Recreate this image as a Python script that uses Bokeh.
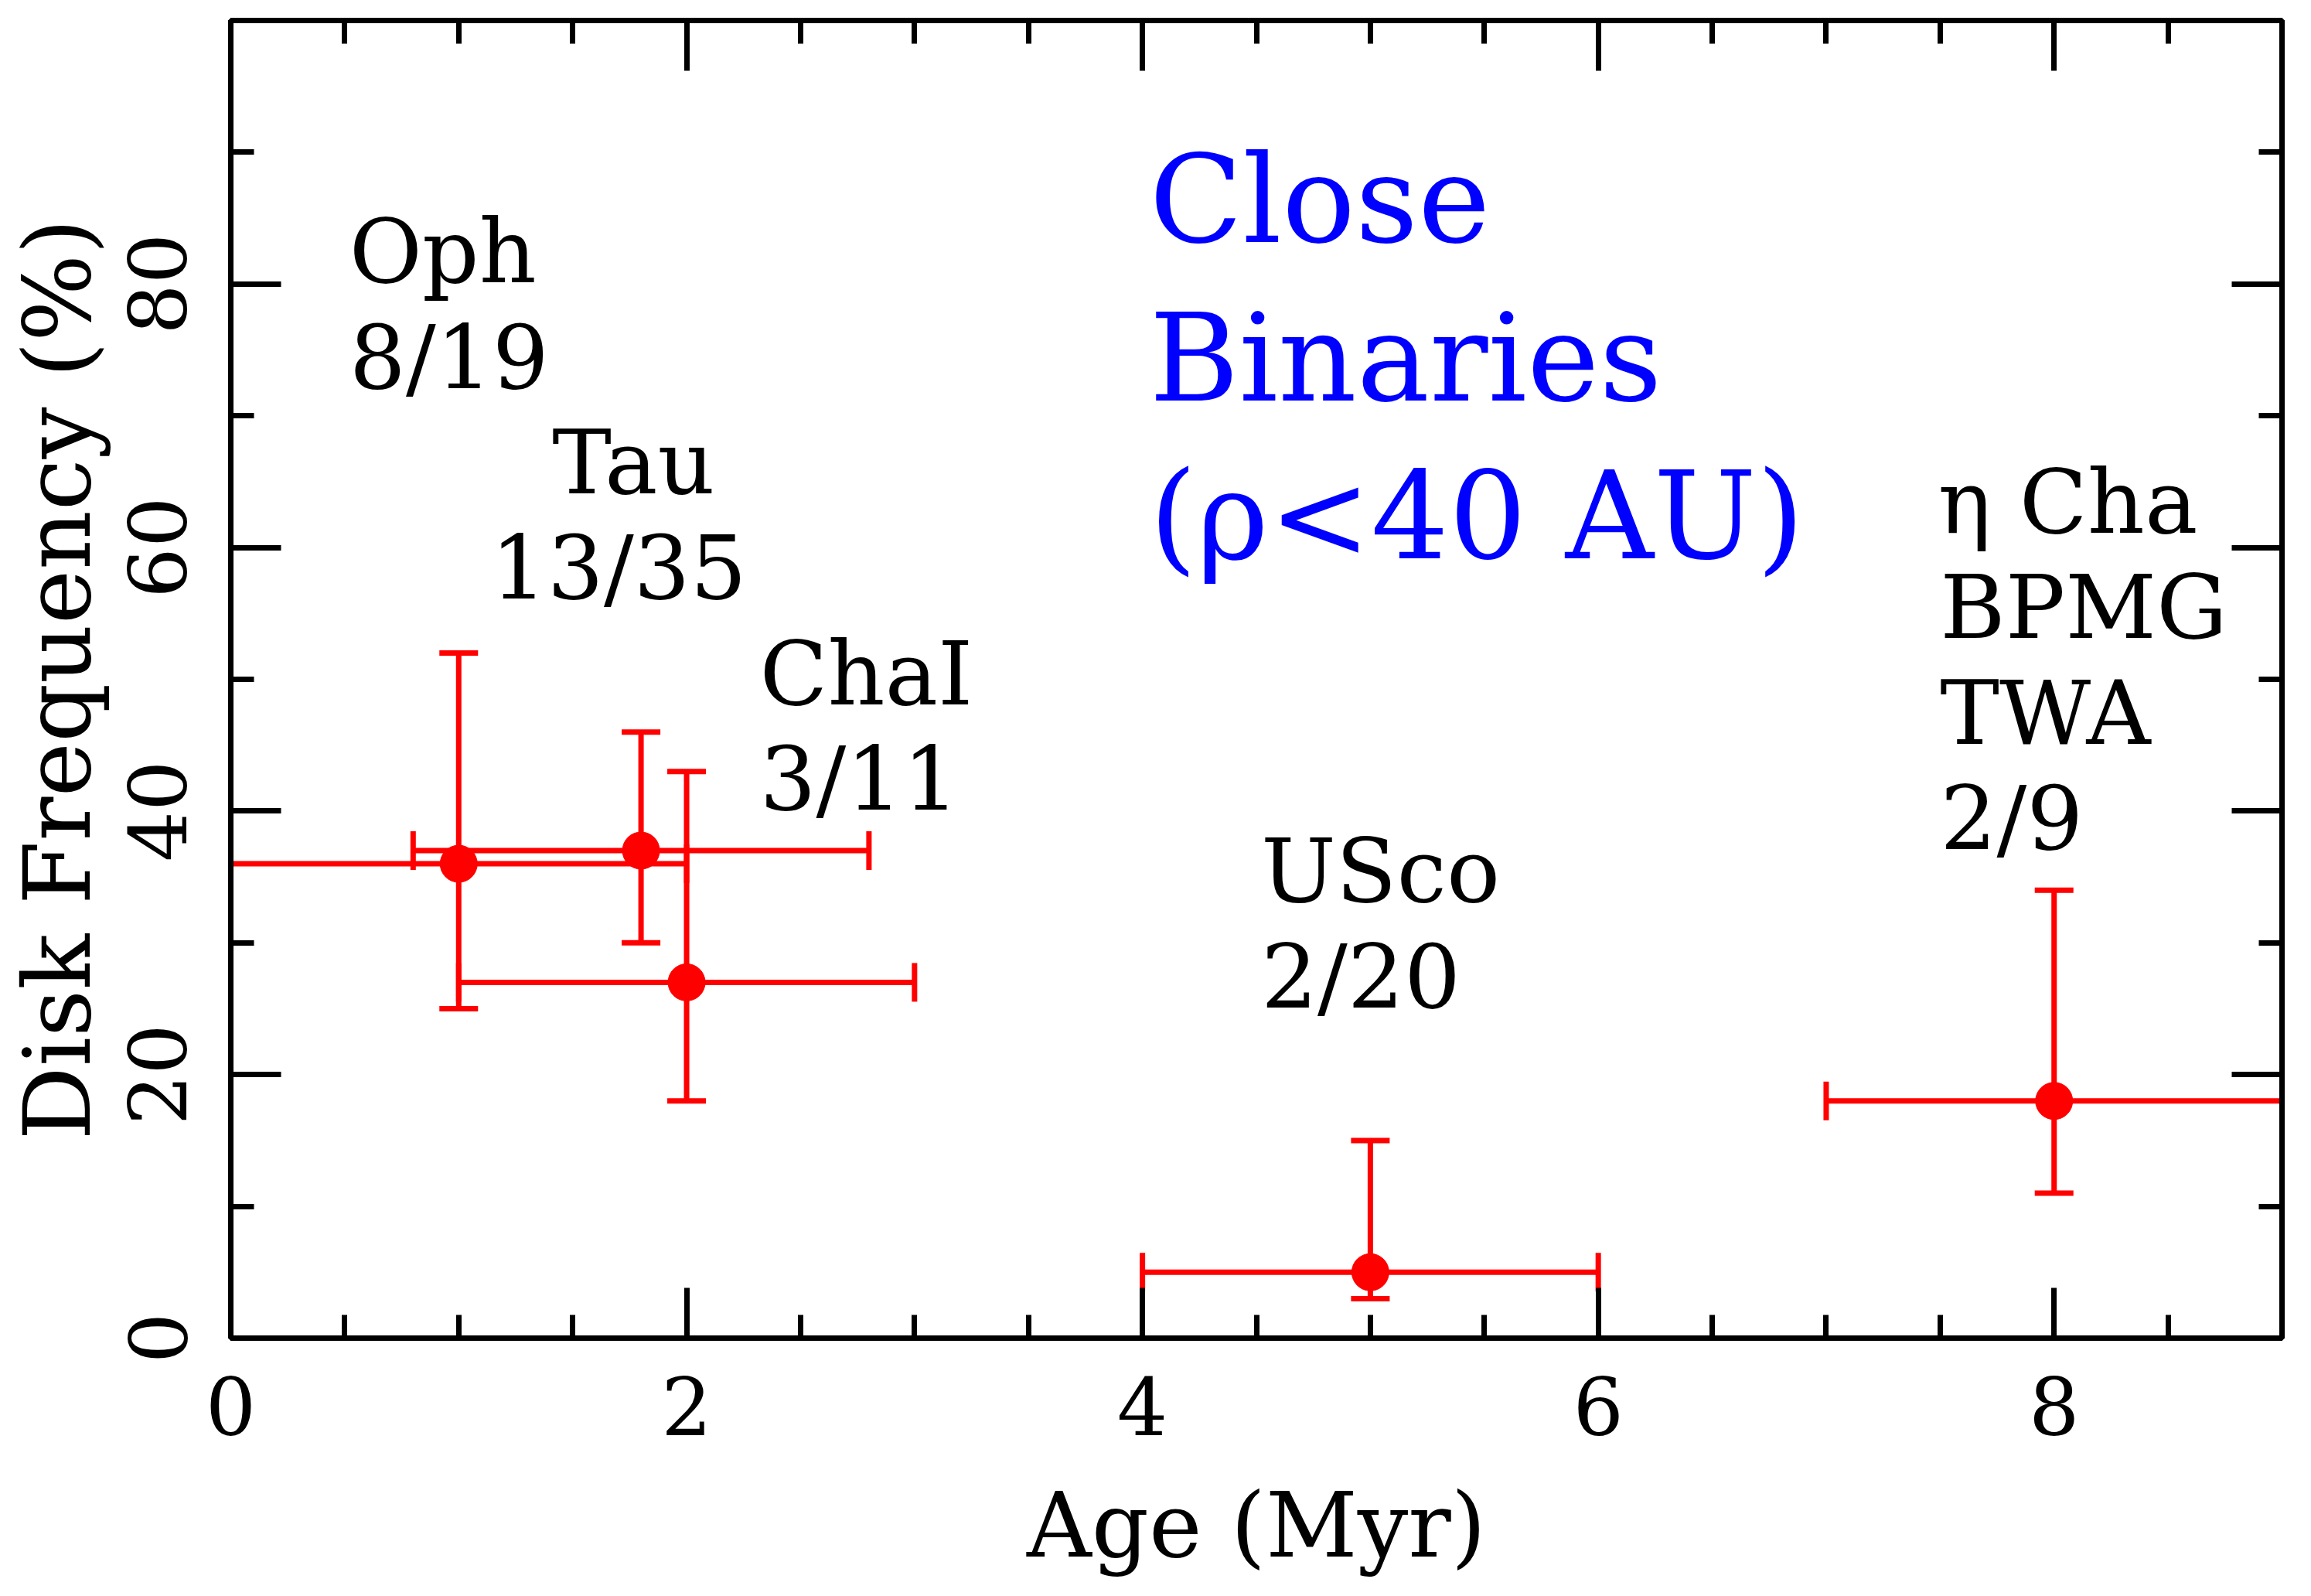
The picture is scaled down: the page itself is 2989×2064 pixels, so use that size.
from bokeh.plotting import figure
from bokeh.models import (ColumnDataSource, Whisker, TeeHead, FixedTicker,
                          LinearAxis, Range1d, CustomJSTickFormatter)
from bokeh.core.properties import value
from bokeh.embed import file_html
from bokeh.resources import INLINE

# ---- data ----
groups   = ["Oph", "Tau", "ChaI", "USco", "η Cha/BPMG/TWA"]
age      = [1.0, 1.8, 2.0, 5.0, 8.0]
age_lo   = [0.0, 0.8, 1.0, 4.0, 7.0]
age_hi   = [2.0, 2.8, 3.0, 6.0, 9.0]
freq     = [36.0, 37.0, 27.0, 5.0, 18.0]
freq_lo  = [25.0, 30.0, 18.0, 3.0, 11.0]
freq_hi  = [52.0, 46.0, 43.0, 15.0, 34.0]

x_major = [0, 2, 4, 6, 8]
x_minor = [0.5 * i for i in range(19)]
y_major = [0, 20, 40, 60, 80]
y_minor = [10 * i for i in range(11)]

# annotation texts (black) and their anchor positions
label_text = ["Oph", "8/19", "Tau", "13/35", "ChaI", "3/11", "USco", "2/20",
              "η Cha", "BPMG", "TWA", "2/9"]
label_x    = [0.52, 0.52, 1.41, 1.14, 2.32, 2.32, 4.52, 4.52, 7.49, 7.5, 7.5, 7.5]
label_y    = [80, 72, 64, 56, 48, 40, 33, 25, 61, 53, 45, 37]

title_text = ["Close", "Binaries", "(ρ<40 AU)"]
title_x    = [4.03, 4.03, 4.03]
title_y    = [83, 71, 59]

FONT = "DejaVu Serif"

p = figure(width=2973, height=2048, output_backend="svg", toolbar_location=None,
           x_range=Range1d(0, 9), y_range=Range1d(0, 100),
           min_border_left=298, min_border_right=22, min_border_top=26,
           min_border_bottom=318, background_fill_color="white",
           border_fill_color="white")
p.grid.visible = False
p.outline_line_color = "black"
p.outline_line_width = 7

def style_axis(ax, ticks, minors, show_labels):
    ax.ticker = FixedTicker(ticks=ticks, minor_ticks=minors)
    ax.axis_line_width = 7
    ax.axis_line_color = "black"
    ax.major_tick_line_width = 7
    ax.minor_tick_line_width = 7
    ax.major_tick_in = 65
    ax.major_tick_out = 0
    ax.minor_tick_in = 30
    ax.minor_tick_out = 0
    ax.major_label_text_font = FONT
    ax.major_label_text_font_size = "103px"
    ax.major_label_text_color = "black"
    ax.axis_label_text_font = FONT
    ax.axis_label_text_font_size = "116px"
    ax.axis_label_text_font_style = "normal"
    ax.axis_label_text_color = "black"
    if not show_labels:
        ax.formatter = CustomJSTickFormatter(code="return ''")
        ax.major_label_standoff = 0

xa = p.xaxis[0]
ya = p.yaxis[0]
style_axis(xa, x_major, x_minor, True)
style_axis(ya, y_major, y_minor, True)
xa.axis_label = "Age (Myr)"
ya.axis_label = "Disk Frequency (%)"
ya.axis_label_text_font_size = "119px"
xa.major_label_standoff = 50
xa.axis_label_standoff = 46
ya.major_label_standoff = 57
ya.axis_label_standoff = 20
ya.major_label_orientation = "vertical"

top = LinearAxis()
right = LinearAxis()
style_axis(top, x_major, x_minor, False)
style_axis(right, y_major, y_minor, False)
p.add_layout(top, "above")
p.add_layout(right, "right")

src = ColumnDataSource(dict(age=age, age_lo=age_lo, age_hi=age_hi,
                            freq=freq, freq_lo=freq_lo, freq_hi=freq_hi))

def tee():
    return TeeHead(size=50, line_color="red", line_width=7)

p.add_layout(Whisker(source=src, base="age", lower="freq_lo", upper="freq_hi",
                     dimension="height", line_color="red", line_width=7,
                     lower_head=tee(), upper_head=tee()))
p.add_layout(Whisker(source=src, base="freq", lower="age_lo", upper="age_hi",
                     dimension="width", line_color="red", line_width=7,
                     lower_head=tee(), upper_head=tee()))
p.scatter(x="age", y="freq", source=src, size=48, marker="circle",
          fill_color="red", line_color="red")

# y_offset lifts the text so that its baseline sits on the anchor
p.text(x=label_x, y=label_y, text=label_text, text_font=value(FONT),
       text_font_size="115px", text_color="black", y_offset=-42,
       text_align="left", text_baseline="alphabetic")
p.text(x=title_x, y=title_y, text=title_text, text_font=value(FONT),
       text_font_size="158px", text_color="#0000ff", y_offset=-58,
       text_align="left", text_baseline="alphabetic")

open("out.html", "w").write(file_html(p, INLINE))
